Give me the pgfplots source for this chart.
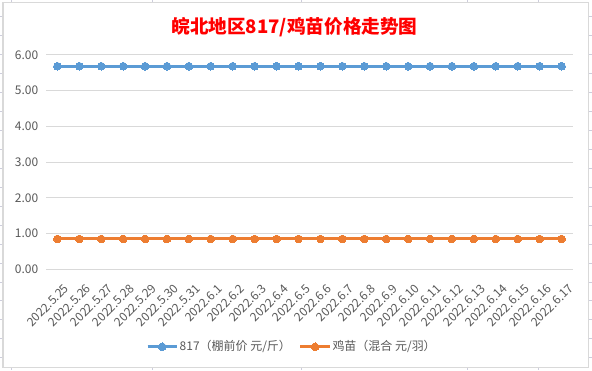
\documentclass[border=0pt]{standalone}
\usepackage{pgfplots}
\usepackage{pgfplotstable}
\pgfplotsset{compat=1.18}
\usepackage{fontspec}
\setmainfont{Noto Sans CJK SC}
\definecolor{blueS}{HTML}{5B9BD5}
\definecolor{orangeS}{HTML}{ED7D31}
\definecolor{gridc}{HTML}{D9D9D9}
\definecolor{txt}{HTML}{595959}
\definecolor{cellc}{HTML}{CDCDDC}
\definecolor{titlered}{HTML}{FF0000}

\pgfplotstableread{
x y
0 5.68
1 5.68
2 5.68
3 5.68
4 5.68
5 5.68
6 5.68
7 5.68
8 5.68
9 5.68
10 5.68
11 5.68
12 5.68
13 5.68
14 5.68
15 5.68
16 5.68
17 5.68
18 5.68
19 5.68
20 5.68
21 5.68
22 5.68
23 5.68
}\tableA

\pgfplotstableread{
x y
0 0.85
1 0.85
2 0.85
3 0.85
4 0.85
5 0.85
6 0.85
7 0.85
8 0.85
9 0.85
10 0.85
11 0.85
12 0.85
13 0.85
14 0.85
15 0.85
16 0.85
17 0.85
18 0.85
19 0.85
20 0.85
21 0.85
22 0.85
23 0.85
}\tableB

\begin{document}
\begin{tikzpicture}
\begin{scope}[x=0.75pt,y=0.75pt]
\fill[white] (0,0) rectangle (592,370);
\foreach \yy in {16,35,...,358} {
  \draw[cellc, line width=0.75pt] (0,370-\yy) -- (2.5,370-\yy);
  \draw[cellc, line width=0.75pt] (588.7,370-\yy) -- (592,370-\yy);
}
\foreach \xx in {11,152,302,468,539} {
  \draw[cellc, line width=0.75pt] (\xx,370) -- (\xx,367.7);
  \draw[cellc, line width=0.75pt] (\xx,0) -- (\xx,2.7);
}
\draw[gridc, line width=0.9pt] (2.5,2.7) rectangle (588.7,367.7);
\node[text=titlered, font=\fontsize{14pt}{16pt}\selectfont\bfseries, inner sep=0pt] at (294.5,370-26.5) {皖北地区817/鸡苗价格走势图};
\end{scope}
\begin{axis}[
  at={(34.5pt,75.5pt)}, anchor=south west,
  scale only axis, width=395.25pt, height=161.25pt,
  xmin=-0.5, xmax=23.5, ymin=0, ymax=6,
  xtick={0,...,23}, ytick={0,1,...,6},
  xticklabels={2022.5.25,2022.5.26,2022.5.27,2022.5.28,2022.5.29,2022.5.30,2022.5.31,2022.6.1,2022.6.2,2022.6.3,2022.6.4,2022.6.5,2022.6.6,2022.6.7,2022.6.8,2022.6.9,2022.6.10,2022.6.11,2022.6.12,2022.6.13,2022.6.14,2022.6.15,2022.6.16,2022.6.17},
  ymajorgrids, grid style={gridc, line width=0.75pt},
  axis line style={draw=none}, tick style={draw=none}, major tick length=0pt,
  /pgf/number format/assume math mode=true,
  yticklabel={\pgfmathprintnumber[fixed,zerofill,precision=2]{\tick}},
  ticklabel style={font=\fontsize{9pt}{10pt}\selectfont, text=txt},
  yticklabel style={anchor=east, inner sep=0pt, xshift=-6pt},
  xticklabel style={rotate=45, anchor=east, inner sep=0pt, xshift=-4pt, yshift=-14pt},
  legend columns=2,
  legend style={at={(0.466,-0.361)}, anchor=center, draw=none, fill=none,
    font=\fontsize{9pt}{10pt}\selectfont, text=txt,
    /tikz/every even column/.append style={column sep=5pt},
    nodes={inner sep=1pt}},
  legend image code/.code={\draw[mark repeat=2, mark phase=2] plot coordinates {(0pt,0pt) (11pt,0pt) (22pt,0pt)};},
]
\addplot[blueS, line width=2.25pt, mark=*, mark size=2.9pt, mark options={solid, fill=blueS, draw=blueS, line width=0pt}] table[x=x,y=y] {\tableA};
\addlegendentry{817（棚前价 元/斤）}
\addplot[orangeS, line width=2.25pt, mark=*, mark size=2.9pt, mark options={solid, fill=orangeS, draw=orangeS, line width=0pt}] table[x=x,y=y] {\tableB};
\addlegendentry{鸡苗（混合 元/羽）}
\end{axis}
\end{tikzpicture}
\end{document}
